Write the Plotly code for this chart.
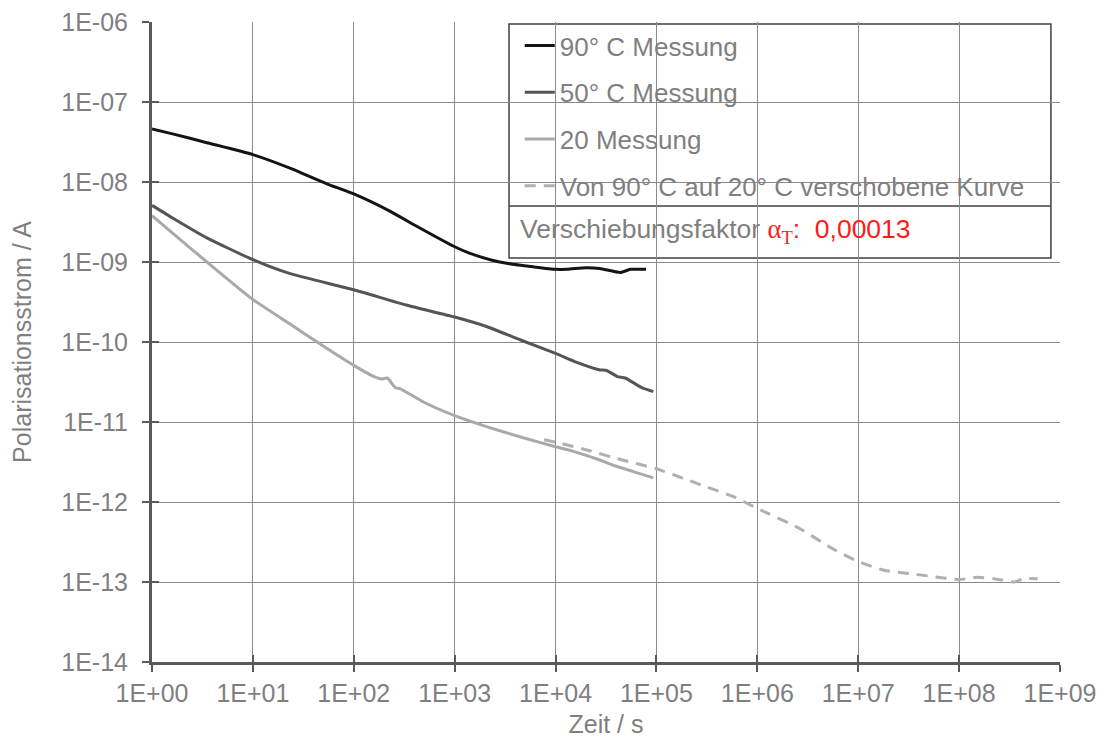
import plotly.graph_objects as go

# Polarisation current measurements (time in s, current in A)
t_90 = [1, 1.6, 3.5, 10, 23, 54, 100, 230, 420, 1000, 1400, 2300, 3500, 6000,
        1.0e4, 1.3e4, 2.0e4, 2.75e4, 4.4e4, 5.5e4, 7.9e4]
i_90 = [4.6e-8, 4.0e-8, 3.1e-8, 2.2e-8, 1.5e-8, 9.5e-9, 7.1e-9, 4.3e-9, 2.8e-9, 1.55e-9,
        1.29e-9, 1.06e-9, 9.5e-10, 8.7e-10, 8.1e-10, 8.1e-10, 8.5e-10, 8.3e-10, 7.4e-10,
        8.1e-10, 8.1e-10]

t_50 = [1, 1.6, 3.5, 10, 23, 100, 330, 1000, 2100, 4500, 1.0e4, 1.6e4, 2.7e4, 3.2e4,
        4.1e4, 4.9e4, 7.1e4, 9.3e4]
i_50 = [5.1e-9, 3.55e-9, 2.0e-9, 1.07e-9, 7.2e-10, 4.5e-10, 2.9e-10, 2.05e-10, 1.55e-10,
        1.06e-10, 7.2e-11, 5.6e-11, 4.5e-11, 4.4e-11, 3.7e-11, 3.55e-11, 2.7e-11, 2.4e-11]

t_20 = [1, 1.6, 3.5, 10, 23, 46, 100, 155, 190, 215, 257, 290, 490, 1000, 2100, 4500,
        1.0e4, 1.5e4, 2.75e4, 4.0e4, 5.9e4, 9.3e4]
i_20 = [3.8e-9, 2.3e-9, 1.0e-9, 3.4e-10, 1.7e-10, 9.5e-11, 5.1e-11, 3.75e-11, 3.45e-11,
        3.55e-11, 2.7e-11, 2.6e-11, 1.78e-11, 1.2e-11, 8.7e-12, 6.5e-12, 4.9e-12, 4.3e-12,
        3.35e-12, 2.8e-12, 2.4e-12, 2.0e-12]

# 90 °C curve shifted onto the 20 °C time scale
t_shift = [7700, 1.0e4, 2.0e4, 4.4e4, 1.0e5, 2.0e5, 2.9e5, 5.8e5, 1.0e6, 2.6e6, 5.6e6,
           1.0e7, 1.8e7, 3.0e7, 5.5e7, 1.0e8, 1.5e8, 2.2e8, 3.5e8, 4.4e8, 6.0e8]
i_shift = [6.0e-12, 5.6e-12, 4.5e-12, 3.4e-12, 2.6e-12, 1.9e-12, 1.6e-12, 1.17e-12,
           8.3e-13, 4.7e-13, 2.6e-13, 1.8e-13, 1.4e-13, 1.29e-13, 1.17e-13, 1.07e-13,
           1.15e-13, 1.1e-13, 1.0e-13, 1.1e-13, 1.1e-13]

shift_factor = "0,00013"

x_ticks = [10.0 ** k for k in range(0, 10)]
x_ticktext = ["1E+%02d" % k for k in range(0, 10)]
y_ticks = [10.0 ** -k for k in range(14, 5, -1)]
y_ticktext = ["1E-%02d" % k for k in range(14, 5, -1)]

FONT = "Liberation Sans, Arial, sans-serif"
TXT = "#7f7f7f"
AXIS = "#595959"
GRID = "#8a8a8a"

fig = go.Figure()

series = [
    (t_90, i_90, "90° C Messung", "#141414", "solid"),
    (t_50, i_50, "50° C Messung", "#555555", "solid"),
    (t_20, i_20, "20 Messung", "#a9a9a9", "solid"),
    (t_shift, i_shift, "Von 90° C auf 20° C verschobene Kurve", "#b0b0b0", "11px,8px"),
]
for k, (xs, ys, name, color, dash) in enumerate(series):
    fig.add_trace(go.Scatter(
        x=xs, y=ys, name=name, mode="lines", legendgroup=f"g{k}",
        line=dict(color=color, width=3, dash=dash, shape="spline", smoothing=0.5),
    ))

# empty trace carrying the inner halves of the crossing tick marks
fig.add_trace(go.Scatter(x=[], y=[], xaxis="x2", yaxis="y2", showlegend=False,
                         hoverinfo="skip"))

common = dict(type="log", showgrid=True, gridcolor=GRID, gridwidth=1.3,
              showline=True, linecolor=AXIS, linewidth=3, automargin=False,
              ticks="outside", ticklen=7, tickwidth=2, tickcolor=AXIS,
              tickfont=dict(family=FONT, size=25, color=TXT), zeroline=False)

inner = dict(type="log", tickmode="array", ticks="inside", ticklen=7, tickwidth=2,
             tickcolor=AXIS, showticklabels=False, showgrid=False, showline=False,
             zeroline=False, automargin=False)

fig.update_layout(
    width=1106, height=738, autosize=False,
    margin=dict(l=152, r=46, t=22, b=76),
    paper_bgcolor="white", plot_bgcolor="white",
    font=dict(family=FONT, color=TXT),
    xaxis=dict(common, range=[0, 9], tickmode="array", tickvals=x_ticks,
               ticktext=x_ticktext, ticklabelstandoff=0,
               title=dict(text="Zeit / s", font=dict(family=FONT, size=25, color=TXT),
                          standoff=19)),
    yaxis=dict(common, range=[-14, -6], tickmode="array", tickvals=y_ticks,
               ticktext=y_ticktext, ticklabelstandoff=9,
               title=dict(text="Polarisationsstrom / A",
                          font=dict(family=FONT, size=25, color=TXT), standoff=23)),
    xaxis2=dict(inner, range=[0, 9], overlaying="x", anchor="y", side="bottom",
                tickvals=x_ticks),
    yaxis2=dict(inner, range=[-14, -6], overlaying="y", anchor="x", side="left",
                tickvals=y_ticks),
    legend=dict(x=0.405, y=1.0, xanchor="left", yanchor="top",
                bgcolor="rgba(0,0,0,0)", borderwidth=0, traceorder="grouped",
                tracegroupgap=10, font=dict(family=FONT, size=26, color=TXT)),
    showlegend=True,
)

# legend frame with the separate field for the shift factor
fig.add_shape(type="rect", xref="paper", yref="paper", x0=0.3932, x1=0.99,
              y0=0.6313, y1=0.9969, line=dict(color="#404040", width=1.5),
              fillcolor="white", layer="between")
fig.add_shape(type="line", xref="paper", yref="paper", x0=0.3932, x1=0.99,
              y0=0.7125, y1=0.7125, line=dict(color="#404040", width=1.5),
              layer="between")

fig.add_annotation(
    xref="paper", yref="paper", x=0.403, y=0.673, xanchor="left", yanchor="middle",
    showarrow=False, font=dict(family=FONT, size=26.5, color=TXT),
    text=("Verschiebungsfaktor "
          "<span style='color:#ff1a1a;font-family:Liberation Serif'>α<sub>T</sub></span>"
          "<span style='color:#ff1a1a'>:\u00a0\u00a0" + shift_factor + "</span>"),
)

fig.write_html("out.html")
